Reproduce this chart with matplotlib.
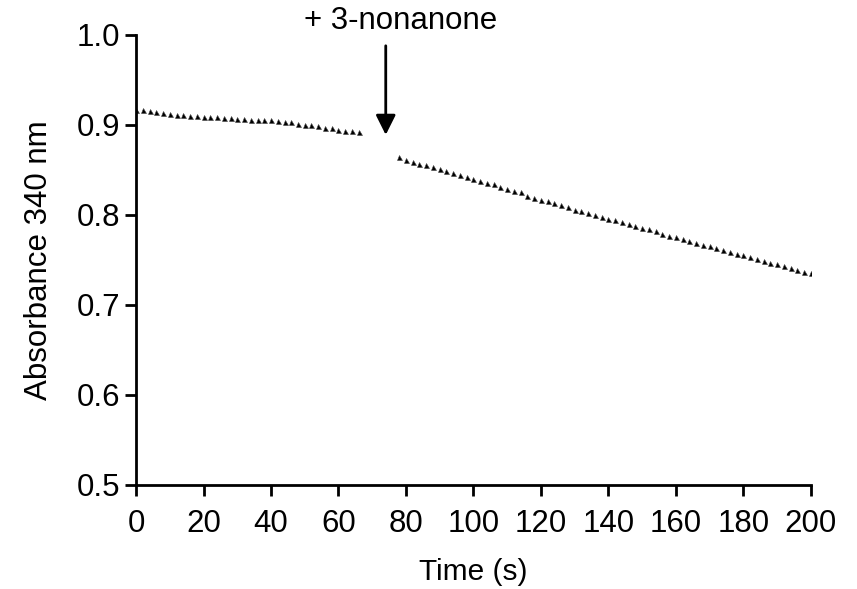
import matplotlib.pyplot as plt

# absorbance trace before the addition
t_before = [0, 2, 4, 6, 8, 10, 12, 14, 16, 18, 20, 22, 24, 26, 28, 30, 32,
            34, 36, 38, 40, 42, 44, 46, 48, 50, 52, 54, 56, 58, 60, 62, 64, 66]
a_before = [0.917, 0.917, 0.915, 0.914, 0.913, 0.912, 0.911, 0.911, 0.910,
            0.910, 0.909, 0.909, 0.909, 0.908, 0.908, 0.907, 0.907, 0.906,
            0.906, 0.905, 0.905, 0.904, 0.903, 0.903, 0.901, 0.900, 0.900,
            0.899, 0.897, 0.897, 0.894, 0.893, 0.893, 0.892]

# absorbance trace after adding 3-nonanone
t_after = [78, 80, 82, 84, 86, 88, 90, 92, 94, 96, 98, 100, 102, 104, 106,
           108, 110, 112, 114, 116, 118, 120, 122, 124, 126, 128, 130, 132,
           134, 136, 138, 140, 142, 144, 146, 148, 150, 152, 154, 156, 158,
           160, 162, 164, 166, 168, 170, 172, 174, 176, 178, 180, 182, 184,
           186, 188, 190, 192, 194, 196, 198, 200]
a_after = [0.864, 0.861, 0.859, 0.857, 0.855, 0.853, 0.851, 0.849, 0.847,
           0.844, 0.842, 0.840, 0.838, 0.836, 0.834, 0.831, 0.829, 0.827,
           0.825, 0.821, 0.819, 0.817, 0.815, 0.813, 0.811, 0.809, 0.806,
           0.804, 0.802, 0.800, 0.798, 0.796, 0.794, 0.792, 0.790, 0.788,
           0.786, 0.784, 0.782, 0.779, 0.777, 0.775, 0.773, 0.771, 0.769,
           0.767, 0.765, 0.763, 0.761, 0.759, 0.757, 0.755, 0.753, 0.751,
           0.749, 0.747, 0.745, 0.743, 0.741, 0.739, 0.737, 0.735]

x_ticks = [0, 20, 40, 60, 80, 100, 120, 140, 160, 180, 200]
y_ticks = [0.5, 0.6, 0.7, 0.8, 0.9, 1.0]

plt.rcParams['font.family'] = ['Liberation Sans', 'DejaVu Sans']

fig = plt.figure(figsize=(8.57, 5.89), dpi=100)
ax = fig.add_axes([0.1587, 0.1766, 0.7876, 0.764])

ax.plot(t_before, a_before, linestyle='none', marker='^', ms=3.6,
        color='black', mec='#444444', mew=0.4)
ax.plot(t_after, a_after, linestyle='none', marker='^', ms=3.6,
        color='black', mec='#444444', mew=0.4)

ax.annotate('', xy=(74, 0.889), xytext=(74, 0.988),
            arrowprops=dict(arrowstyle='-|>', mutation_scale=30, lw=2,
                            color='black', shrinkA=0, shrinkB=0))
ax.text(78.5, 1.016, '+ 3-nonanone', ha='center', va='center', fontsize=22.5,
        clip_on=False)

ax.set_xlim(0, 200)
ax.set_ylim(0.5, 1.0)
ax.set_xticks(x_ticks)
ax.set_yticks(y_ticks)
ax.set_yticklabels(['%.1f' % v for v in y_ticks])
ax.tick_params(labelsize=22.5, width=2, length=8, direction='out')
ax.tick_params(axis='x', pad=9)
ax.set_xlabel('Time (s)', fontsize=21.5, labelpad=14)
ax.set_ylabel('Absorbance 340 nm', fontsize=22.5, labelpad=16)

for s in ['top', 'right']:
    ax.spines[s].set_visible(False)
for s in ['left', 'bottom']:
    ax.spines[s].set_linewidth(2)

fig.savefig('out.png', dpi=100)
